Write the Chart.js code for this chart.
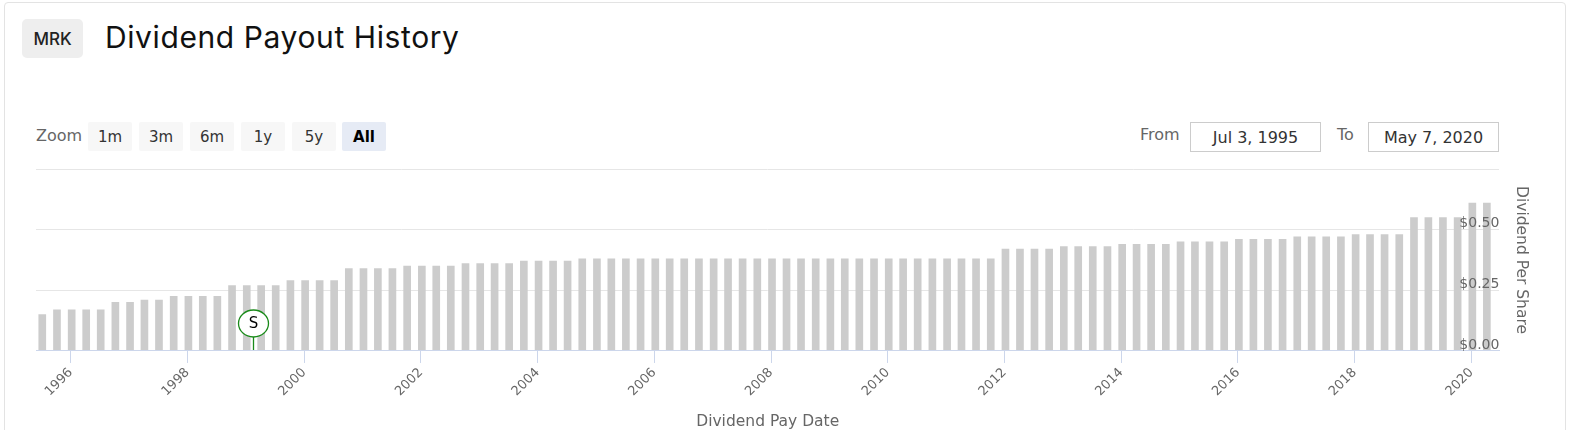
<!DOCTYPE html>
<html>
<head>
<meta charset="utf-8">
<script src="https://cdn.jsdelivr.net/npm/chart.js@4.4.1/dist/chart.umd.min.js"></script>
<style>
    body { margin: 0; background: #fff; width: 1575px; height: 430px; overflow: hidden; position: relative; font-family: "DejaVu Sans", sans-serif; }
    .card { position: absolute; left: 4px; top: 2px; width: 1560px; height: 470px; border: 1px solid #e3e3e3; border-radius: 4px; }
    .ticker { position: absolute; left: 22px; top: 19px; width: 61px; height: 39px; background: #eeeeee; border-radius: 5px;
              font: 500 17px Inter, sans-serif; color: #222; display: flex; align-items: center; justify-content: center; }
    h1 { position: absolute; left: 105px; top: 17px; margin: 0; font: 400 30px Inter, sans-serif; letter-spacing: 0.6px; color: #111; line-height: 40px; white-space: nowrap; }
    .lbl { position: absolute; top: 126px; font-size: 16px; color: #666; line-height: 20px; }
    .btn { position: absolute; top: 122px; width: 44px; height: 29px; background: #f7f7f7; border-radius: 2px;
           font-size: 15px; color: #333; display: flex; align-items: center; justify-content: center; }
    .btn.active { background: #e6ebf5; font-weight: bold; color: #000; }
    .range { position: absolute; top: 122px; width: 131px; height: 30px; border: 1px solid #cccccc; box-sizing: border-box;
             font-size: 16px; color: #333; display: flex; align-items: center; justify-content: center; }
    #chartBox { position: absolute; left: 0; top: 160px; width: 1575px; height: 274px; }
</style>
</head>
<body>
<div class="card"></div>
<div class="ticker">MRK</div>
<h1>Dividend Payout History</h1>

<div class="lbl" style="left:36px">Zoom</div>
<div class="btn" style="left:88px">1m</div>
<div class="btn" style="left:139px">3m</div>
<div class="btn" style="left:190px">6m</div>
<div class="btn" style="left:241px">1y</div>
<div class="btn" style="left:292px">5y</div>
<div class="btn active" style="left:342px">All</div>

<div class="lbl" style="left:1140px;top:125px">From</div>
<div class="range" style="left:1190px">Jul 3, 1995</div>
<div class="lbl" style="left:1337px;top:125px">To</div>
<div class="range" style="left:1368px">May 7, 2020</div>

<div id="chartBox"><canvas id="divChart" width="1575" height="274"></canvas></div>

<script>
// dividend pay dates (quarterly) and amount per share, split adjusted
const payDates = [
    "1995-07-07", "1995-10-07",
    "1996-01-07", "1996-04-07", "1996-07-07", "1996-10-07",
    "1997-01-07", "1997-04-07", "1997-07-07", "1997-10-07",
    "1998-01-07", "1998-04-07", "1998-07-07", "1998-10-07",
    "1999-01-07", "1999-04-07", "1999-07-07", "1999-10-07",
    "2000-01-07", "2000-04-07", "2000-07-07", "2000-10-07",
    "2001-01-07", "2001-04-07", "2001-07-07", "2001-10-07",
    "2002-01-07", "2002-04-07", "2002-07-07", "2002-10-07",
    "2003-01-07", "2003-04-07", "2003-07-07", "2003-10-07",
    "2004-01-07", "2004-04-07", "2004-07-07", "2004-10-07",
    "2005-01-07", "2005-04-07", "2005-07-07", "2005-10-07",
    "2006-01-07", "2006-04-07", "2006-07-07", "2006-10-07",
    "2007-01-07", "2007-04-07", "2007-07-07", "2007-10-07",
    "2008-01-07", "2008-04-07", "2008-07-07", "2008-10-07",
    "2009-01-07", "2009-04-07", "2009-07-07", "2009-10-07",
    "2010-01-07", "2010-04-07", "2010-07-07", "2010-10-07",
    "2011-01-07", "2011-04-07", "2011-07-07", "2011-10-07",
    "2012-01-07", "2012-04-07", "2012-07-07", "2012-10-07",
    "2013-01-07", "2013-04-07", "2013-07-07", "2013-10-07",
    "2014-01-07", "2014-04-07", "2014-07-07", "2014-10-07",
    "2015-01-07", "2015-04-07", "2015-07-07", "2015-10-07",
    "2016-01-07", "2016-04-07", "2016-07-07", "2016-10-07",
    "2017-01-07", "2017-04-07", "2017-07-07", "2017-10-07",
    "2018-01-07", "2018-04-07", "2018-07-07", "2018-10-07",
    "2019-01-07", "2019-04-07", "2019-07-07", "2019-10-07",
    "2020-01-07", "2020-04-07"
];
const dividends = [
    0.15, 0.17,
    0.17, 0.17, 0.17, 0.20,
    0.20, 0.21, 0.21, 0.225,
    0.225, 0.225, 0.225, 0.27,
    0.27, 0.27, 0.27, 0.29,
    0.29, 0.29, 0.29, 0.34,
    0.34, 0.34, 0.34, 0.35,
    0.35, 0.35, 0.35, 0.36,
    0.36, 0.36, 0.36, 0.37,
    0.37, 0.37, 0.37, 0.38,
    0.38, 0.38, 0.38, 0.38,
    0.38, 0.38, 0.38, 0.38,
    0.38, 0.38, 0.38, 0.38,
    0.38, 0.38, 0.38, 0.38,
    0.38, 0.38, 0.38, 0.38,
    0.38, 0.38, 0.38, 0.38,
    0.38, 0.38, 0.38, 0.38,
    0.42, 0.42, 0.42, 0.42,
    0.43, 0.43, 0.43, 0.43,
    0.44, 0.44, 0.44, 0.44,
    0.45, 0.45, 0.45, 0.45,
    0.46, 0.46, 0.46, 0.46,
    0.47, 0.47, 0.47, 0.47,
    0.48, 0.48, 0.48, 0.48,
    0.55, 0.55, 0.55, 0.55,
    0.61, 0.61
];

// stock split flags
const splitDates = ["1999-02-17"];
const splitTitles = ["S"];

const tickYears = [1996, 1998, 2000, 2002, 2004, 2006, 2008, 2010, 2012, 2014, 2016, 2018, 2020];
const yTicks = [0, 0.25, 0.5, 0.75];

// "YYYY-MM-DD" -> decimal year
function toYear(s) {
    const [y, m, d] = s.split("-").map(Number);
    const start = Date.UTC(y, 0, 1);
    const end = Date.UTC(y + 1, 0, 1);
    return y + (Date.UTC(y, m - 1, d) - start) / (end - start);
}

// draws the split flag above the x axis
const flagPlugin = {
    id: "splitFlags",
    afterDatasetsDraw(chart) {
        const ctx = chart.ctx;
        const xs = chart.scales.x;
        const base = chart.scales.y.getPixelForValue(0);
        splitDates.forEach((d, i) => {
            const x = Math.round(xs.getPixelForValue(toYear(d))) + 0.5;
            const cy = base - 27.5;
            ctx.save();
            ctx.strokeStyle = "#1a8a1a";
            ctx.lineWidth = 1.3;
            ctx.beginPath();
            ctx.moveTo(x, cy + 13.5);
            ctx.lineTo(x, base);
            ctx.stroke();
            ctx.beginPath();
            ctx.ellipse(x, cy, 15, 13.5, 0, 0, Math.PI * 2);
            ctx.fillStyle = "#fff";
            ctx.fill();
            ctx.stroke();
            ctx.fillStyle = "#000";
            ctx.font = "15px 'DejaVu Sans'";
            ctx.textAlign = "center";
            ctx.textBaseline = "middle";
            ctx.fillText(splitTitles[i], x, cy + 1);
            ctx.restore();
        });
    }
};

new Chart(document.getElementById("divChart"), {
    type: "bar",
    data: {
        datasets: [{
            data: payDates.map((d, i) => ({ x: toYear(d), y: dividends[i] })),
            backgroundColor: "#cccccc",
            borderWidth: 0,
            barThickness: 7
        }]
    },
    options: {
        responsive: false,
        animation: false,
        layout: { padding: { left: 36, right: 42, top: 9, bottom: 0 } },
        plugins: { legend: { display: false }, tooltip: { enabled: false } },
        scales: {
            x: {
                type: "linear",
                min: 1995.405,
                max: 2020.48,
                offset: false,
                afterBuildTicks: scale => { scale.ticks = tickYears.map(v => ({ value: v })); },
                ticks: {
                    autoSkip: false,
                    minRotation: 45,
                    maxRotation: 45,
                    color: "#666",
                    font: { family: "DejaVu Sans", size: 13 },
                    padding: 2,
                    callback: v => String(v)
                },
                grid: { drawOnChartArea: false, drawTicks: true, tickLength: 12, color: "#ccd6eb", offset: false },
                border: { color: "#ccd6eb", width: 1, z: 1 },
                title: { display: true, text: "Dividend Pay Date", color: "#666", font: { family: "DejaVu Sans", size: 15.5 }, padding: { top: 11, bottom: 3 } }
            },
            y: {
                position: "right",
                min: 0,
                max: 0.75,
                afterBuildTicks: scale => { scale.ticks = yTicks.map(v => ({ value: v })); },
                ticks: {
                    mirror: true,
                    padding: 0,
                    z: 1,
                    color: "#666",
                    font: { family: "DejaVu Sans", size: 14, lineHeight: "12px" },
                    callback: v => v >= 0.75 ? "" : ["$" + v.toFixed(2), ""]
                },
                grid: { color: "#e6e6e6", drawTicks: false },
                border: { display: false },
                title: { display: true, text: "Dividend Per Share", color: "#666", font: { family: "DejaVu Sans", size: 15.5 }, padding: { top: 3, bottom: 12 } }
            }
        }
    },
    plugins: [flagPlugin]
});
</script>
</body>
</html>
